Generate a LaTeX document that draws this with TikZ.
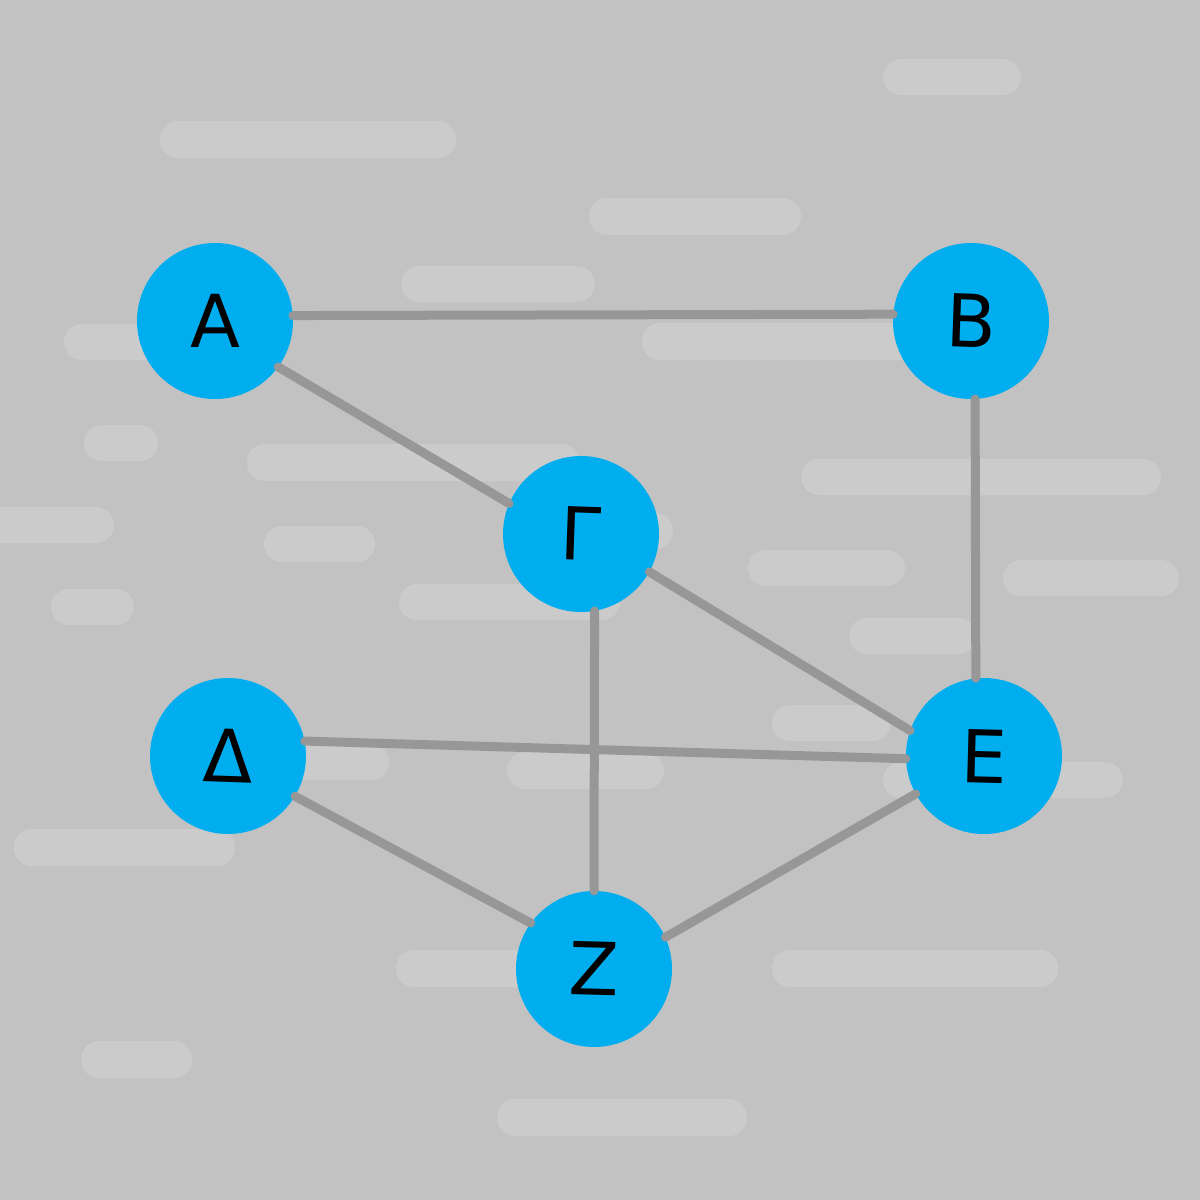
\documentclass[tikz,border=0pt]{standalone}
\usepackage{fontspec}
\usepackage{graphicx}
\setmainfont{DejaVu Sans}
\definecolor{bgcol}{HTML}{C2C2C2}
\definecolor{barcol}{HTML}{CBCBCB}
\definecolor{nodecol}{HTML}{00AEEF}
\definecolor{edgecol}{HTML}{979797}
\tikzset{
  bar/.style={fill=barcol, rounded corners=18pt},
  vertex/.style={circle, fill=nodecol, minimum size=156pt, inner sep=0pt,
    font=\fontsize{73}{80}\selectfont, text=black},
  edge/.style={draw=edgecol, line width=9pt, line cap=round}
}
\begin{document}
\begin{tikzpicture}[x=1pt,y=-1pt]
\fill[bgcol] (0,0) rectangle (1200,1200);
\useasboundingbox (0,0) rectangle (1200,1200);
% background bars
\fill[bar] (883,59) rectangle (1021,95);
\fill[bar] (160,121) rectangle (456,158);
\fill[bar] (589,198) rectangle (801,235);
\fill[bar] (401,266) rectangle (595,302);
\fill[bar] (64,324) rectangle (220,360);
\fill[bar] (642,323) rectangle (920,360);
\fill[bar] (84,425) rectangle (158,461);
\fill[bar] (247,444) rectangle (579,481);
\fill[bar] (801,459) rectangle (1161,495);
\fill[bar] (-30,507) rectangle (114,543);
\fill[bar] (264,526) rectangle (375,562);
\fill[bar] (560,513) rectangle (673,549);
\fill[bar] (399,584) rectangle (620,620);
\fill[bar] (748,550) rectangle (905,586);
\fill[bar] (1003,560) rectangle (1179,596);
\fill[bar] (51,589) rectangle (134,625);
\fill[bar] (849,618) rectangle (976,654);
\fill[bar] (772,705) rectangle (891,741);
\fill[bar] (200,744) rectangle (389,780);
\fill[bar] (507,752) rectangle (664,789);
\fill[bar] (883,762) rectangle (1123,798);
\fill[bar] (14,829) rectangle (235,866);
\fill[bar] (396,950) rectangle (560,987);
\fill[bar] (772,950) rectangle (1058,987);
\fill[bar] (81,1041) rectangle (192,1078);
\fill[bar] (497,1099) rectangle (747,1136);
% vertices
\node[vertex] (A) at (215,321) {A};
\node[vertex] (B) at (971,321) {\rotatebox{-2}{B}};
\node[vertex] (G) at (581,534) {\rotatebox{-2}{Γ}};
\node[vertex] (D) at (228,756) {\rotatebox{-2}{Δ}};
\node[vertex] (E) at (984,756) {\rotatebox{-1.5}{E}};
\node[vertex] (Z) at (594,969) {\rotatebox{-1.5}{Z}};
% edges
\draw[edge] (A.4.4) -- (B.175.5);
\draw[edge] (A.-36.7) -- (G.157.2);
\draw[edge] (G.-29.6) -- (E.161);
\draw[edge] (G.-80.5) -- (Z.90);
\draw[edge] (B.-87.8) -- (E.96.9);
\draw[edge] (D.11.3) -- (E.182);
\draw[edge] (D.-31) -- (Z.144);
\draw[edge] (Z.24) -- (E.209.6);
\end{tikzpicture}
\end{document}
